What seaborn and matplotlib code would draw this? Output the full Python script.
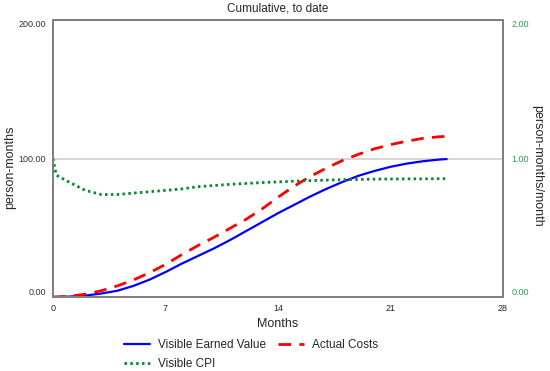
import matplotlib
matplotlib.use("Agg")
import matplotlib.pyplot as plt
import seaborn as sns
import pandas as pd

# values
months = [0, 0.2, 1, 2, 3, 4, 5, 6, 7, 8, 9, 10, 11, 12, 13, 14, 15, 16, 17, 18,
          19, 20, 21, 22, 23, 24, 24.5]
earned_value = [0, 0, 0.3, 1, 2.5, 4.5, 8, 12.5, 18, 24, 29.5, 35, 41, 47.5, 54,
                60.5, 66.5, 72.5, 78, 83, 87.5, 91, 94, 96.3, 98, 99.2, 99.6]
actual_costs = [0, 0.05, 0.5, 2, 4.5, 8, 12.3, 17.5, 23.5, 30.5, 37, 43, 49.5, 56,
                63.5, 72, 80, 87, 93, 98.5, 103, 107, 110, 112.5, 114.5, 115.7, 116]
cpi = [1.0, 0.88, 0.83, 0.77, 0.74, 0.74, 0.75, 0.76, 0.77, 0.78, 0.796, 0.805,
       0.813, 0.82, 0.826, 0.831, 0.836, 0.84, 0.844, 0.847, 0.849, 0.851, 0.852,
       0.853, 0.853, 0.854, 0.854]

x_ticks = [0, 7, 14, 21, 28]
left_ticks = [0, 100, 200]
right_ticks = [0, 1, 2]

df = pd.DataFrame({"Months": months, "ev": earned_value, "ac": actual_costs, "cpi": cpi})

sns.set_style("white")
plt.rcParams["font.family"] = ["Liberation Sans", "DejaVu Sans"]

fig = plt.figure(figsize=(5.5, 3.71), dpi=100)
ax = fig.add_axes([0.0964, 0.1995, 0.818, 0.7465])
ax2 = ax.twinx()

ax.axhline(100, color="#d3d3d3", lw=1.3, zorder=0)

sns.lineplot(data=df, x="Months", y="ev", ax=ax, color="#0000ff", lw=1.6,
             label="Visible Earned Value", legend=False)
sns.lineplot(data=df, x="Months", y="ac", ax=ax, color="#ff0000", lw=2.0,
             dashes=False, linestyle=(0, (4.5, 3.0)), label="Actual Costs", legend=False)
sns.lineplot(data=df, x="Months", y="cpi", ax=ax2, color="#00892f", lw=2.0,
             linestyle=(0, (0.9, 1.2)), label="Visible CPI", legend=False)

ax.set_xlim(0, 28)
ax.set_ylim(0, 200)
ax2.set_ylim(0, 2)
ax.set_xticks(x_ticks)
ax.set_xticklabels([str(t) for t in x_ticks], fontsize=6.5)
ax.set_yticks(left_ticks)
ax.set_yticklabels([f"{t:.2f}" for t in left_ticks], fontsize=6.5, color="#333333")
ax2.set_yticks(right_ticks)
ax2.set_yticklabels([f"{t:.2f}" for t in right_ticks], fontsize=6.5, color="#2a9d50")
ax.get_yticklabels()[0].set_va("bottom")
ax.get_yticklabels()[-1].set_va("top")
ax2.get_yticklabels()[0].set_va("bottom")
ax2.get_yticklabels()[-1].set_va("top")
ax.tick_params(length=0, pad=5)
ax2.tick_params(length=0, pad=6)

for a in (ax, ax2):
    for s in a.spines.values():
        s.set_color("#808080")
        s.set_linewidth(1.4)

ax.set_xlabel("Months", fontsize=9, labelpad=4)
ax.set_ylabel("person-months", fontsize=9, va="center")
ax.yaxis.set_label_coords(-0.095, 0.47)
ax2.set_ylabel("person-months/month", fontsize=9, rotation=270, va="center")
ax2.yaxis.set_label_coords(1.075, 0.475)
ax.set_title("Cumulative, to date", fontsize=8.5, pad=6)

h1, l1 = ax.get_legend_handles_labels()
h2, l2 = ax2.get_legend_handles_labels()
fig.legend([h1[0], h2[0], h1[1]], [l1[0], l2[0], l1[1]], ncol=2, frameon=False,
           loc="upper left", bbox_to_anchor=(0.2165, 0.098), fontsize=8.5,
           handlelength=2.2, handletextpad=0.7, columnspacing=1.0,
           labelspacing=0.55, borderaxespad=0)

fig.savefig("out.png", dpi=100)
